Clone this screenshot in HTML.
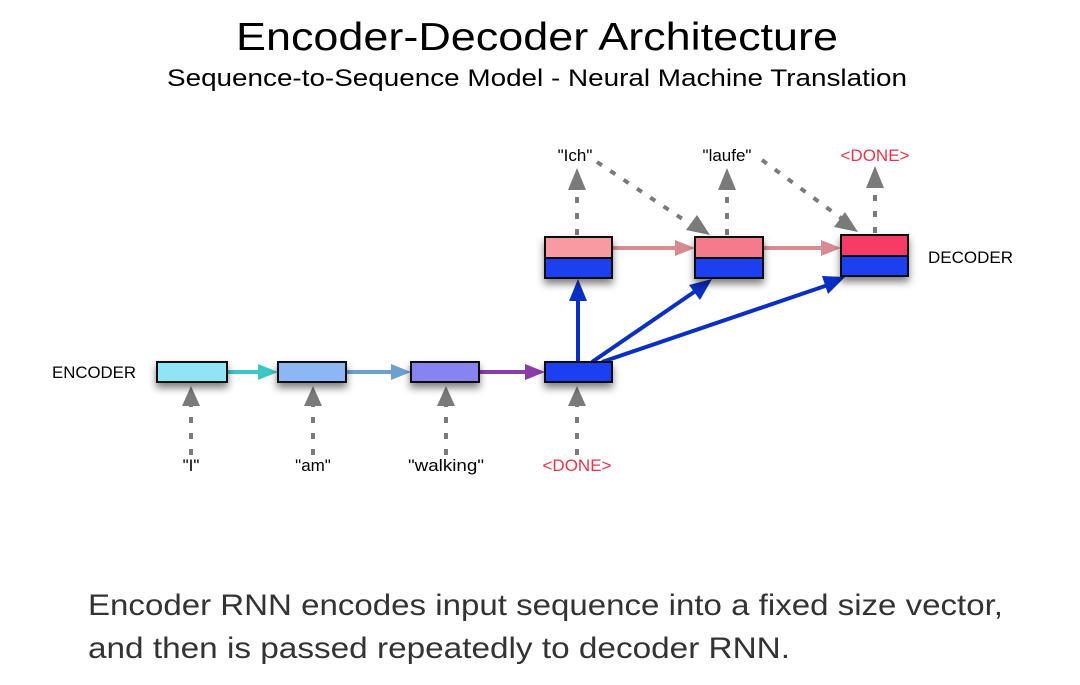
<!DOCTYPE html>
<html><head><meta charset="utf-8"><style>
html,body{margin:0;padding:0;background:#fff;}
svg{display:block;}
</style></head><body>
<svg width="1080" height="685" viewBox="0 0 1080 685" xmlns="http://www.w3.org/2000/svg">
<defs>
<filter id="sh" x="-30%" y="-30%" width="160%" height="200%"><feDropShadow dx="0" dy="5" stdDeviation="4" flood-color="#000" flood-opacity="0.5"/></filter>
</defs>
<text x="537" y="50" font-family="Liberation Sans, sans-serif" font-size="39" text-anchor="middle" textLength="602" lengthAdjust="spacingAndGlyphs" fill="#000">Encoder-Decoder Architecture</text>
<text x="537" y="86" font-family="Liberation Sans, sans-serif" font-size="24" text-anchor="middle" textLength="740" lengthAdjust="spacingAndGlyphs" fill="#000">Sequence-to-Sequence Model - Neural Machine Translation</text>

<g font-family="Liberation Sans, sans-serif" font-size="17">
<text x="52" y="378" fill="#000" textLength="84" lengthAdjust="spacingAndGlyphs">ENCODER</text>
<text x="928" y="263" fill="#000" textLength="85" lengthAdjust="spacingAndGlyphs">DECODER</text>
<text x="191" y="471" text-anchor="middle">"I"</text>
<text x="313" y="471" text-anchor="middle">"am"</text>
<text x="446" y="471" text-anchor="middle" textLength="76" lengthAdjust="spacingAndGlyphs">"walking"</text>
<text x="577" y="471" text-anchor="middle" fill="#e8344a">&lt;DONE&gt;</text>
<text x="575" y="161" text-anchor="middle">"Ich"</text>
<text x="727" y="161" text-anchor="middle">"laufe"</text>
<text x="875" y="161" text-anchor="middle" fill="#e8344a">&lt;DONE&gt;</text>
</g>

<g stroke="#7a7a7a" stroke-width="4" stroke-dasharray="6,10" fill="none">
<line x1="191" y1="455" x2="191" y2="405"/>
<line x1="313" y1="455" x2="313" y2="405"/>
<line x1="446" y1="455" x2="446" y2="405"/>
<line x1="577" y1="455" x2="577" y2="405"/>
<line x1="577" y1="235" x2="577" y2="190"/>
<line x1="727" y1="235" x2="727" y2="190"/>
<line x1="875" y1="233" x2="875" y2="190"/>
<line x1="597" y1="162" x2="690" y2="224"/>
<line x1="762" y1="160" x2="845" y2="221"/>
</g>
<g fill="#7a7a7a">
<polygon points="191,386 182,406 200,406"/>
<polygon points="313,386 304,406 322,406"/>
<polygon points="446,386 437,406 455,406"/>
<polygon points="577,386 568,406 586,406"/>
<polygon points="577,168 568,190 586,190"/>
<polygon points="727,168 718,190 736,190"/>
<polygon points="875,166 866,188 884,188"/>
<polygon points="710,235 686,230 697,215"/>
<polygon points="858,232 834,227 845,212"/>
</g>

<line x1="227" y1="372" x2="262" y2="372" stroke="#3cc6c4" stroke-width="4"/>
<polygon points="278,372 258,364 258,380" fill="#3cc6c4"/>
<line x1="346" y1="372" x2="395" y2="372" stroke="#6d9fd0" stroke-width="4"/>
<polygon points="411,372 391,364 391,380" fill="#6d9fd0"/>
<line x1="479" y1="372" x2="529" y2="372" stroke="#8a3da8" stroke-width="4"/>
<polygon points="545,372 525,364 525,380" fill="#8a3da8"/>

<line x1="612" y1="248" x2="679" y2="248" stroke="#d98b92" stroke-width="4"/>
<polygon points="695,248 675,240 675,256" fill="#d98b92"/>
<line x1="763" y1="248" x2="825" y2="248" stroke="#d98b92" stroke-width="4"/>
<polygon points="841,248 821,240 821,256" fill="#d98b92"/>

<g stroke="#0a2fc4" stroke-width="4" fill="none">
<line x1="578" y1="362" x2="578" y2="298"/>
<line x1="592" y1="362" x2="697" y2="290"/>
<line x1="602" y1="362" x2="828" y2="285"/>
</g>
<g fill="#0a2fc4">
<polygon points="578,279 569,301 587,301"/>
<polygon points="712,279 689,285 700,300"/>
<polygon points="845,277 822,276 828,294"/>
</g>

<g stroke="#111" stroke-width="2" filter="url(#sh)">
<rect x="157" y="362" width="70" height="20" fill="#8fe4f6"/>
<rect x="278" y="362" width="68" height="20" fill="#8cb6f4"/>
<rect x="411" y="362" width="68" height="20" fill="#8783f1"/>
<rect x="545" y="362" width="67" height="20" fill="#1d40f0"/>
<g>
<rect x="545" y="237" width="67" height="21" fill="#f79aa2"/>
<rect x="545" y="258" width="67" height="20" fill="#1d40f0"/>
</g>
<g>
<rect x="695" y="237" width="68" height="21" fill="#f57a8c"/>
<rect x="695" y="258" width="68" height="20" fill="#1d40f0"/>
</g>
<g>
<rect x="841" y="235" width="67" height="21" fill="#f73b65"/>
<rect x="841" y="256" width="67" height="20" fill="#1d40f0"/>
</g>
</g>

<g font-family="Liberation Sans, sans-serif" font-size="30" fill="#333">
<text x="88" y="615" textLength="915" lengthAdjust="spacingAndGlyphs">Encoder RNN encodes input sequence into a fixed size vector,</text>
<text x="88" y="658" textLength="702" lengthAdjust="spacingAndGlyphs">and then is passed repeatedly to decoder RNN.</text>
</g>
</svg>
</body></html>
